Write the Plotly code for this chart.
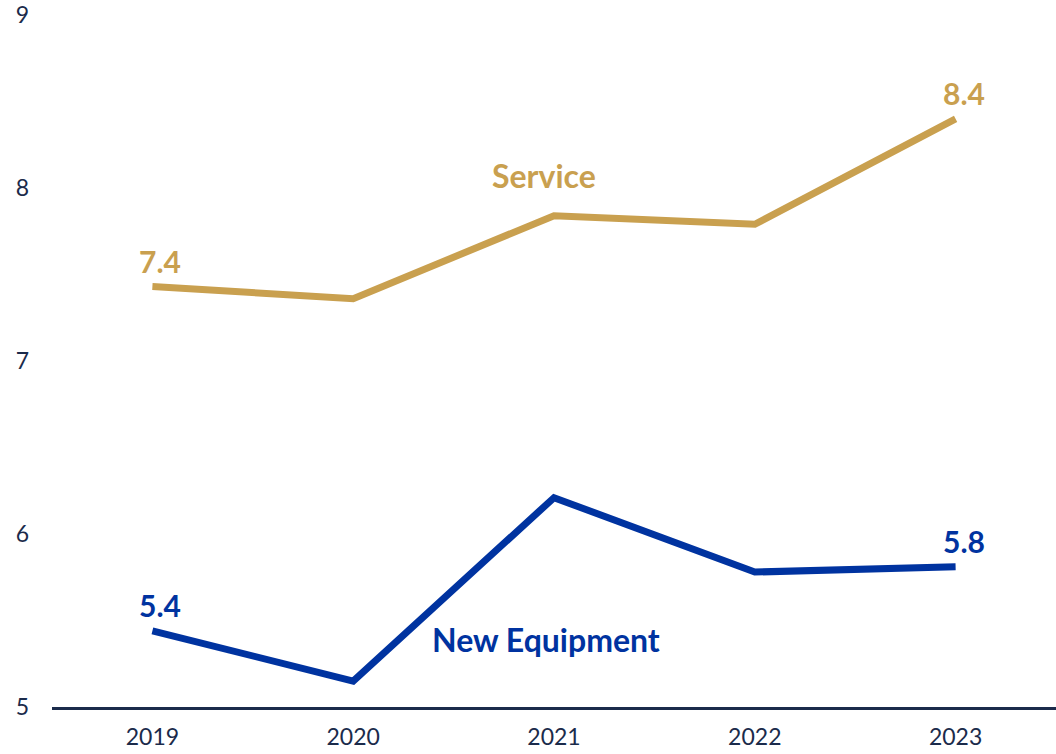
import plotly.graph_objects as go

years = ["2019", "2020", "2021", "2022", "2023"]
service = [7.43, 7.36, 7.84, 7.79, 8.40]
new_equipment = [5.44, 5.15, 6.21, 5.78, 5.81]
y_ticks = [5, 6, 7, 8, 9]

GOLD = "#C9A04F"
BLUE = "#0033A0"
NAVY = "#1B2B4B"
FONT = "Lato"

fig = go.Figure()
fig.add_trace(go.Scatter(x=years, y=service, mode="lines",
                         line=dict(color=GOLD, width=7), name="Service"))
fig.add_trace(go.Scatter(x=years, y=new_equipment, mode="lines",
                         line=dict(color=BLUE, width=7), name="New Equipment"))

# end-point value labels (category index used for x position)
for series, color in ((service, GOLD), (new_equipment, BLUE)):
    for i in (0, len(years) - 1):
        fig.add_annotation(x=i, y=series[i], text=f"{series[i]:.1f}",
                           showarrow=False, xshift=8, yshift=26,
                           font=dict(family=FONT, size=30, color=color, weight="bold"))

# series name labels
fig.add_annotation(x=1.95, y=8.075, text="Service", showarrow=False,
                   font=dict(family=FONT, size=32, color=GOLD, weight="bold"))
fig.add_annotation(x=1.96, y=5.39, text="New Equipment", showarrow=False,
                   font=dict(family=FONT, size=32, color=BLUE, weight="bold"))

fig.update_layout(
    width=1056, height=754,
    margin=dict(l=52, r=0, t=15, b=47),
    paper_bgcolor="white", plot_bgcolor="white",
    showlegend=False,
    font=dict(family=FONT, size=23, color=NAVY),
    xaxis=dict(type="category", range=[-0.5, 4.5], showgrid=False,
               showline=True, linecolor=NAVY, linewidth=2.5,
               ticks="", ticklabelstandoff=8),
    yaxis=dict(range=[5, 9], tickvals=y_ticks, showgrid=False,
               zeroline=False, showline=False, ticks="",
               ticklabelstandoff=22),
)

fig.write_html("out.html")
